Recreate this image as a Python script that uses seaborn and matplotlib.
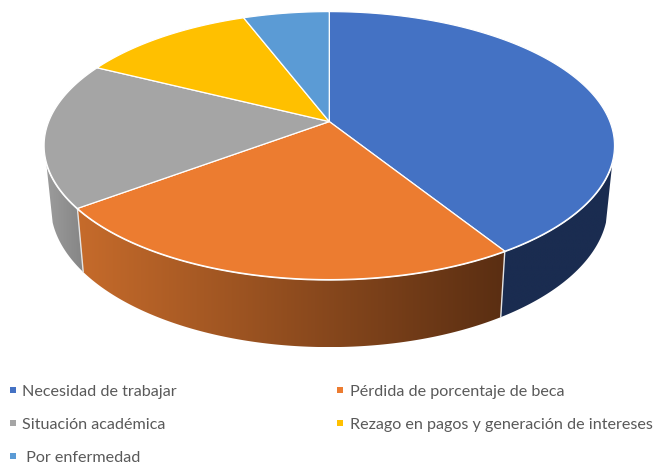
import numpy as np
import matplotlib.pyplot as plt
import seaborn as sns
from matplotlib.colors import LinearSegmentedColormap
from matplotlib.patches import Polygon

# Values (percent)
categories = ["Necesidad de trabajar", "Pérdida de porcentaje de beca", "Situación académica",
              "Rezago en pagos y generación de intereses", " Por enfermedad"]
values = [41.1, 23.7, 17.6, 11.8, 5.8]

top_colors = ["#4472C4", "#EC7C30", "#A5A5A5", "#FFC000", "#5B9BD5"]
wall_left = ["#1A2C50", "#C66B2B", "#9C9C9C", "#FFC000", "#5B9BD5"]
wall_right = ["#1A2C50", "#5A2E12", "#858585", "#FFC000", "#5B9BD5"]
legend_x = [10, 10, 10, 337, 337]
legend_order = [0, 2, 4, 1, 3]
legend_y = [391, 424, 457, 391, 424]

sns.set_theme(style="white")
plt.rcParams['font.family'] = ['Lato', 'DejaVu Sans']
palette = sns.color_palette(top_colors)

# Perspective of the pie, in pixels of the picture
cx, cy = 329.3, 122.6
tilt = 0.179
a, b = 129.7, 280.6
wall_from, wall_to = np.radians(107), np.radians(253)  # part of the rim with a visible wall


def rim(angle):
    # angle runs clockwise from the top of the pie
    u, v = np.sin(angle), np.cos(angle)
    w = 1 + tilt * v
    return cx + b * u / w, cy - a * v / w


def lower(x, y):
    # the bottom rim is a slightly narrower, shifted copy of the top rim
    return cx + 0.977 * (x - cx), 347.5 + 1.056 * (y - 280)


fig = plt.figure(figsize=(6.58, 4.64), dpi=100)
ax = fig.add_axes([0, 0, 1, 1])
ax.set_xlim(0, 658)
ax.set_ylim(464, 0)
ax.axis("off")

edges = np.radians(np.concatenate([[0], np.cumsum(values)]) * 3.6)

# Side wall: a horizontal colour ramp clipped to the shape of each slice
for i in range(len(values)):
    start, stop = max(edges[i], wall_from), min(edges[i + 1], wall_to)
    if start >= stop:
        continue
    t = np.linspace(start, stop, 200)
    x, y = rim(t)
    bx, by = lower(x, y)
    outline = Polygon(np.c_[np.r_[x, bx[::-1]], np.r_[y, by[::-1]]], closed=True,
                      transform=ax.transData, facecolor="none", edgecolor="none")
    ax.add_patch(outline)
    cmap = LinearSegmentedColormap.from_list("wall", [wall_left[i], wall_right[i]])
    im = ax.imshow(np.linspace(0, 1, 256)[None, :], cmap=cmap, aspect="auto", zorder=1,
                   extent=[min(x.min(), bx.min()), max(x.max(), bx.max()), by.max(), min(y.min(), by.min())],
                   interpolation="bilinear")
    im.set_clip_path(outline)
ax.set_xlim(0, 658)
ax.set_ylim(464, 0)

# White seams between the wall slices (front ones only)
for e in edges[1:3]:
    x, y = rim(e)
    bx, by = lower(x, y)
    ax.plot([x, bx], [y, by], color="#E4E4E4", lw=1, zorder=2)

# White line along the front rim
t = np.linspace(wall_from, wall_to, 300)
ax.plot(*rim(t), color="white", lw=1.6, zorder=2)

# Top faces
for i in range(len(values)):
    t = np.linspace(edges[i], edges[i + 1], 200)
    x, y = rim(t)
    ax.fill(np.r_[cx, x], np.r_[cy, y], facecolor=palette[i], edgecolor="white", lw=0.9,
            joinstyle="round", zorder=3)

# Legend
for i, k in enumerate(legend_order):
    ax.scatter(legend_x[i] + 3, legend_y[i], marker="s", s=22, color=palette[k], linewidths=0, zorder=4)
    ax.text(legend_x[i] + 12.5 if i > 2 else legend_x[i] + 12, legend_y[i] + 0.8, categories[k], color="#595959",
            fontsize=11.65, va="center", ha="left", zorder=4)

fig.savefig("out.png", dpi=100)
